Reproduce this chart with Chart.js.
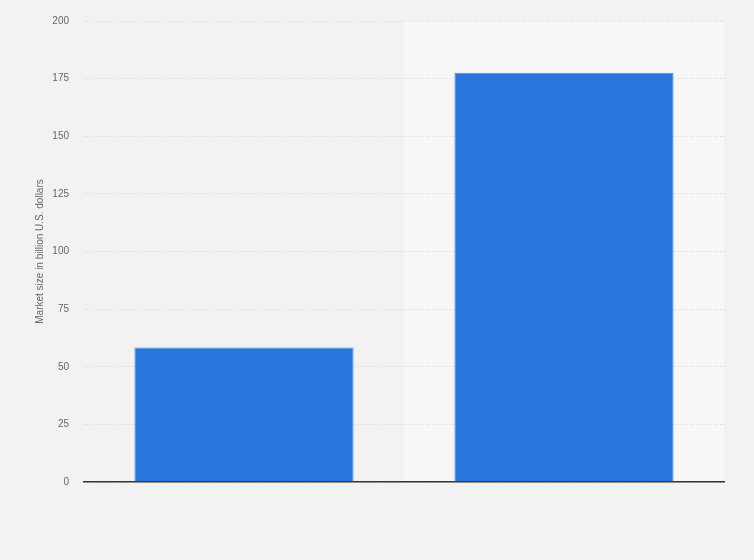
<!DOCTYPE html>
<html>
<head>
<meta charset="utf-8">
<script src="https://cdn.jsdelivr.net/npm/chart.js@4"></script>
<style>
  html, body { margin: 0; padding: 0; background: #f2f2f2; }
  #wrap { width: 754px; height: 560px; }
</style>
</head>
<body>
<div id="wrap"><canvas id="marketChart" width="754" height="560"></canvas></div>
<script>
// x labels are not shown in the picture
const categories = ['Period 1', 'Period 2'];
const marketSize = [58.4, 177.5];
const yTicks = [0, 25, 50, 75, 100, 125, 150, 175, 200];

// lighter band behind the second category
const bandPlugin = {
    id: 'band',
    beforeDraw(chart) {
        const { ctx, chartArea, scales } = chart;
        const step = (chartArea.right - chartArea.left) / categories.length;
        ctx.save();
        ctx.fillStyle = '#f7f7f7';
        for (let i = 1; i < categories.length; i += 2) {
            const cx = scales.x.getPixelForValue(i);
            ctx.fillRect(cx - step / 2, chartArea.top, step, chartArea.bottom - chartArea.top);
        }
        ctx.restore();
    }
};

const ctx = document.getElementById('marketChart').getContext('2d');
new Chart(ctx, {
    type: 'bar',
    data: {
        labels: categories,
        datasets: [{
            label: 'Market size',
            data: marketSize,
            backgroundColor: '#2876dd',
            borderColor: '#4d8fe6',
            borderWidth: 1,
            barPercentage: 0.685,
            categoryPercentage: 1
        }]
    },
    options: {
        responsive: false,
        animation: false,
        layout: { padding: { left: 0, right: 30, top: 20, bottom: 78 } },
        scales: {
            x: {
                ticks: { display: false },
                grid: { display: false, drawTicks: false },
                border: { display: true, color: '#333333', width: 1.5 }
            },
            y: {
                min: 0,
                max: 200,
                afterBuildTicks(axis) {
                    axis.ticks = yTicks.map(v => ({ value: v }));
                },
                afterFit(axis) { axis.width = 84; },
                ticks: {
                    padding: 15,
                    color: '#666666',
                    font: { family: 'Liberation Sans, Arial, sans-serif', size: 10 }
                },
                grid: { color: '#d6d6d6', lineWidth: 1, drawTicks: false },
                border: { display: false, dash: [1, 2] },
                title: {
                    display: true,
                    text: 'Market size in billion U.S. dollars',
                    color: '#666666',
                    font: { family: 'Liberation Sans, Arial, sans-serif', size: 10 },
                    padding: { top: 34, bottom: 0 }
                }
            }
        },
        plugins: {
            legend: { display: false },
            tooltip: { enabled: false }
        }
    },
    plugins: [bandPlugin]
});
</script>
</body>
</html>
